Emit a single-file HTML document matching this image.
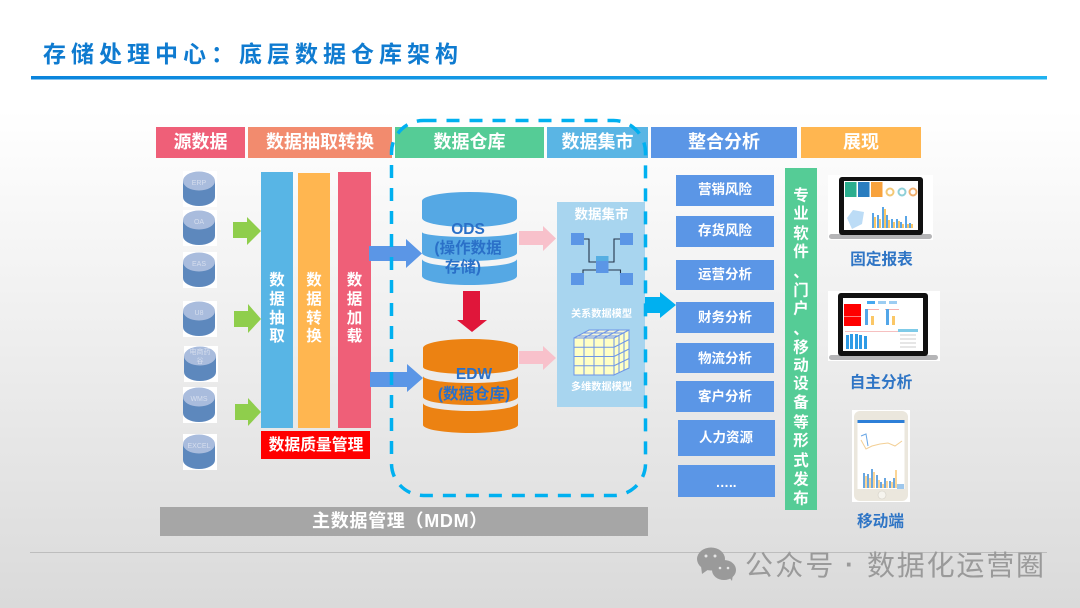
<!DOCTYPE html>
<html lang="zh"><head><meta charset="utf-8"><title>存储处理中心</title>
<style>
html,body{margin:0;padding:0;width:1080px;height:608px;overflow:hidden}
svg{display:block}
text{font-family:"Liberation Sans","Noto Sans CJK SC",sans-serif}
.h{font-size:18px;font-weight:700;fill:#fff;text-anchor:middle}
.l{font-size:13.5px;font-weight:700;fill:#fff;text-anchor:middle}
.v{font-size:15.5px;font-weight:700;fill:#fff;text-anchor:middle}
.c{font-size:7px;fill:#d6deee;text-anchor:middle}
.b{font-size:15.5px;font-weight:700;fill:#2a70c8;text-anchor:middle}
.f{font-size:15.7px;font-weight:700;fill:#2f75c5;text-anchor:middle}
</style></head><body>
<svg xmlns="http://www.w3.org/2000/svg" width="1080" height="608" viewBox="0 0 1080 608">
<defs>
<linearGradient id="bg" x1="0" y1="0" x2="0" y2="1"><stop offset="0" stop-color="#fff"/><stop offset=".18" stop-color="#fff"/><stop offset="1" stop-color="#dadada"/></linearGradient>
<linearGradient id="tb" x1="0" y1="0" x2="1" y2="0"><stop offset="0" stop-color="#0a84dc"/><stop offset="1" stop-color="#20b2f0"/></linearGradient>
<symbol id="cy" width="34" height="36" viewBox="0 0 34 36" overflow="visible">
<rect x="0" y="-1" width="34" height="36" fill="#fff"/>
<path d="M0 9V25A16 9 0 0 0 32 25V9Z" fill="#5d88bd"/>
<ellipse cx="16" cy="9" rx="16" ry="9.5" fill="#a9bcdd"/>
</symbol>
</defs>
<rect width="1080" height="608" fill="url(#bg)"/>

<text x="43" y="62" font-size="23" font-weight="700" letter-spacing="5" fill="#0f7bd0">存储处理中心：底层数据仓库架构</text>
<rect x="31" y="76" width="1016" height="3.5" fill="url(#tb)"/>
<rect x="30" y="552" width="1017" height="1" fill="#bdbdbd"/>

<!-- headers -->
<rect x="156" y="127" width="89" height="31" fill="#ef5f78"/><text class="h" x="200.500" y="148">源数据</text>
<rect x="248" y="127" width="144" height="31" fill="#f28b6e"/><text class="h" x="320" y="148">数据抽取转换</text>
<rect x="395" y="127" width="149" height="31" fill="#55cc96"/><text class="h" x="469.500" y="148">数据仓库</text>
<rect x="547" y="127" width="101" height="31" fill="#5ab5e4"/><text class="h" x="597.500" y="148">数据集市</text>
<rect x="651" y="127" width="146" height="31" fill="#5b96e6"/><text class="h" x="724" y="148">整合分析</text>
<rect x="801" y="127" width="120" height="31" fill="#ffb650"/><text class="h" x="861" y="148">展现</text>

<!-- source cylinders -->
<use href="#cy" x="183" y="172" width="34" height="36"/><text class="c" x="199" y="185">ERP</text>
<use href="#cy" x="183" y="211" width="34" height="36"/><text class="c" x="199" y="224">OA</text>
<use href="#cy" x="183" y="253" width="34" height="36"/><text class="c" x="199" y="266">EAS</text>
<use href="#cy" x="183" y="302" width="34" height="36"/><text class="c" x="199" y="315">U8</text>
<use href="#cy" x="184" y="347" width="34" height="36"/><text class="c" x="200" y="354">电商药</text><text class="c" x="200" y="363">谷</text>
<use href="#cy" x="183" y="388" width="34" height="36"/><text class="c" x="199" y="401">WMS</text>
<use href="#cy" x="183" y="435" width="34" height="36"/><text class="c" x="199" y="448">EXCEL</text>

<!-- green arrows -->
<path d="M233 222H247V217L261 231L247 245V238H233Z" fill="#8fce4c"/>
<path d="M234 311H248V304L261 319L248 333V327H234Z" fill="#8fce4c"/>
<path d="M235 404H248V398L261 412L248 426V420H235Z" fill="#8fce4c"/>

<!-- process columns -->
<rect x="261" y="172" width="32" height="256" fill="#58b5e5"/>
<rect x="298" y="173" width="32" height="255" fill="#ffb650"/>
<rect x="338" y="172" width="33" height="256" fill="#ef5f78"/>
<g>
<text class="v" x="277" y="285">数</text><text class="v" x="277" y="304">据</text><text class="v" x="277" y="323">抽</text><text class="v" x="277" y="341">取</text>
<text class="v" x="314" y="285">数</text><text class="v" x="314" y="304">据</text><text class="v" x="314" y="323">转</text><text class="v" x="314" y="341">换</text>
<text class="v" x="354.500" y="285">数</text><text class="v" x="354.500" y="304">据</text><text class="v" x="354.500" y="323">加</text><text class="v" x="354.500" y="341">载</text>
</g>
<rect x="261" y="431" width="109" height="28" fill="#ff0000"/>
<text x="316" y="450" font-size="15.8" font-weight="700" fill="#fff" text-anchor="middle">数据质量管理</text>
<rect x="160" y="507" width="488" height="29" fill="#a6a6a6"/>
<text x="400" y="527" font-size="18" font-weight="700" letter-spacing=".7" fill="#fff" text-anchor="middle">主数据管理（MDM）</text>

<!-- ODS -->
<path d="M422 201A47.500 9 0 0 1 517 201V218A47.500 9 0 0 1 422 218Z" fill="#55a8e4"/>
<path d="M422 232A47.500 5 0 0 0 517 232V253A47.500 8 0 0 1 422 253Z" fill="#55a8e4"/>
<path d="M422 259A47.500 8 0 0 0 517 259V276A47.500 9 0 0 1 422 276Z" fill="#55a8e4"/>
<text class="b" x="468" y="234">ODS</text>
<text class="b" x="468" y="253">(操作数据</text>
<text class="b" x="463" y="272">存储)</text>

<!-- EDW -->
<path d="M423 348A47.500 9 0 0 1 518 348V367A47.500 7 0 0 1 423 367Z" fill="#ec8212"/>
<path d="M423 376A47.500 7 0 0 0 518 376V397A47.500 8 0 0 1 423 397Z" fill="#ec8212"/>
<path d="M423 403A47.500 8 0 0 0 518 403V425A47.500 8 0 0 1 423 425Z" fill="#ec8212"/>
<text class="b" x="474" y="379">EDW</text>
<text class="b" x="474" y="399">(数据仓库)</text>

<!-- mid arrows -->
<path d="M369 246H406V239L422 253.500L406 268V261H369Z" fill="#5b96e6"/>
<path d="M370 372H407V364L423 378L407 392V387H370Z" fill="#5b96e6"/>
<path d="M519 231H543V226L556 238.500L543 251V245H519Z" fill="#f8c1cb"/>
<path d="M519 351H543V346L556 358L543 370V364H519Z" fill="#f8c1cb"/>
<path d="M463 291H480V320H487L472 332L457 320H463Z" fill="#e0163a"/>

<!-- data mart panel -->
<rect x="557" y="202" width="88" height="205" fill="#a8d5ef"/>
<text x="601.500" y="219" font-size="13.5" font-weight="700" fill="#fff" text-anchor="middle">数据集市</text>
<g fill="none" stroke="#24344a" stroke-width="1.100">
<path d="M584 239H589V262H596"/><path d="M620 239H614V262H608"/><path d="M583 275V270H596"/><path d="M620.500 275V270H608"/>
</g>
<g fill="#5b96e6">
<rect x="571" y="233" width="13" height="12"/><rect x="620" y="233" width="13" height="12"/>
<rect x="571" y="273" width="13" height="12"/><rect x="620" y="273" width="13" height="12"/>
<rect x="596" y="261" width="12.500" height="12"/>
</g>
<rect x="596" y="256" width="12.500" height="5" fill="#55aee2"/>
<text x="601.500" y="317" font-size="10.2" font-weight="700" fill="#fff" text-anchor="middle">关系数据模型</text>
<g stroke="#6e96e8" stroke-width="1" fill="#ffffc4">
<path d="M574 338L589 330H629L614 338Z" fill="#f4f6d8"/>
<path d="M614 338L629 330V368L614 375Z"/>
<rect x="574" y="338" width="40" height="37"/>
<path d="M584 338V375M594 338V375M604 338V375M574 347.250H614M574 356.500H614M574 365.750H614" fill="none"/>
<path d="M584 338L599 330M594 338L609 330M604 338L619 330M578 336H618M583 333H623" fill="none"/>
<path d="M619 335V373M624 333V370M614 347.250L629 339.500M614 356.500L629 349M614 365.750L629 358.500" fill="none"/>
</g>
<text x="601.500" y="390" font-size="10.2" font-weight="700" fill="#fff" text-anchor="middle">多维数据模型</text>

<!-- dashed frame -->
<rect x="391.500" y="120.500" width="254" height="375" rx="32" ry="32" fill="none" stroke="#00b0f0" stroke-width="3.500" stroke-dasharray="13 10"/>

<!-- big cyan arrow -->
<path d="M645 297H660V292L676 305L660 318V313H645Z" fill="#00b0f0"/>

<!-- analysis list -->
<g fill="#5b96e6">
<rect x="676" y="175" width="98" height="31"/><rect x="676" y="216" width="98" height="31"/>
<rect x="676" y="260" width="98" height="30"/><rect x="676" y="302" width="98" height="31"/>
<rect x="676" y="343" width="98" height="30"/><rect x="676" y="381" width="98" height="31"/>
<rect x="678" y="420" width="97" height="36"/><rect x="678" y="465" width="97" height="32"/>
</g>
<text class="l" x="725" y="194">营销风险</text>
<text class="l" x="725" y="235">存货风险</text>
<text class="l" x="725" y="279">运营分析</text>
<text class="l" x="725" y="322">财务分析</text>
<text class="l" x="725" y="363">物流分析</text>
<text class="l" x="725" y="401">客户分析</text>
<text class="l" x="726" y="442">人力资源</text>
<text class="l" x="726" y="487">…..</text>

<!-- vertical publishing bar -->
<rect x="785" y="168" width="32" height="342" fill="#55cc96"/>
<g>
<text class="v" x="801" y="200.500">专</text><text class="v" x="801" y="218.500">业</text><text class="v" x="801" y="238.500">软</text><text class="v" x="801" y="256.500">件</text>
<text class="v" x="801" y="277">、</text><text class="v" x="801" y="295.500">门</text><text class="v" x="801" y="313.500">户</text><text class="v" x="801" y="334">、</text>
<text class="v" x="801" y="352.500">移</text><text class="v" x="801" y="370.500">动</text><text class="v" x="801" y="388.500">设</text><text class="v" x="801" y="407.500">备</text>
<text class="v" x="801" y="427.500">等</text><text class="v" x="801" y="445.500">形</text><text class="v" x="801" y="465.500">式</text><text class="v" x="801" y="484.500">发</text><text class="v" x="801" y="503.500">布</text>
</g>

<!-- laptop 1 -->
<rect x="828" y="175" width="105" height="65" fill="#fff"/>
<rect x="829" y="234" width="103" height="5" rx="2.500" fill="#b5b5b7"/>
<rect x="839" y="177" width="84" height="58" rx="3" fill="#111"/>
<rect x="844" y="181" width="74" height="49" fill="#fff"/>
<rect x="845" y="182" width="11.500" height="15" fill="#2bae8e"/><rect x="858" y="182" width="11.500" height="15" fill="#2a7dbf"/><rect x="871" y="182" width="11.500" height="15" fill="#f8a23c"/>
<g fill="none" stroke-width="2"><circle cx="890" cy="192" r="3.500" stroke="#f3c875"/><circle cx="902" cy="192" r="3.500" stroke="#8fd0d8"/><circle cx="913" cy="192" r="3.500" stroke="#f0b070"/></g>
<path d="M847 218L853 210L864 212L862 224L852 229Z" fill="#bcdcf6"/>
<g fill="#5aa6e6"><rect x="872" y="213" width="2" height="15"/><rect x="877" y="215" width="2" height="13"/><rect x="882" y="207" width="2" height="21"/><rect x="886" y="215" width="2" height="13"/><rect x="891" y="219" width="2" height="9"/><rect x="896" y="219" width="2" height="9"/><rect x="900" y="222" width="2" height="6"/><rect x="905" y="216" width="2" height="12"/><rect x="909" y="223" width="2" height="5"/></g>
<g fill="#fbc766"><rect x="874" y="217" width="2" height="11"/><rect x="879" y="219" width="2" height="9"/><rect x="884" y="209" width="2" height="19"/><rect x="888" y="220" width="2" height="8"/><rect x="893" y="222" width="2" height="6"/><rect x="898" y="221" width="2" height="7"/><rect x="902" y="224" width="2" height="4"/><rect x="907" y="224" width="2" height="4"/><rect x="911" y="224" width="2" height="4"/></g>

<text class="f" x="881.500" y="264.500">固定报表</text>

<!-- laptop 2 -->
<rect x="828" y="291" width="112" height="70" fill="#fff"/>
<rect x="829" y="355" width="109" height="5" rx="2.500" fill="#b5b5b7"/>
<rect x="838" y="293" width="90" height="63" rx="3" fill="#111"/>
<rect x="843" y="298" width="80" height="53" fill="#fff"/>
<rect x="844" y="304" width="17" height="12" fill="#f00"/><rect x="844" y="316.500" width="17" height="9.500" fill="#f00"/>
<rect x="867" y="301" width="8" height="3" fill="#45a8f0"/><rect x="878" y="301" width="8" height="3" fill="#9ccdf2"/><rect x="889" y="301" width="8" height="3" fill="#9ccdf2"/>
<rect x="865" y="309" width="14" height="1" fill="#f6b0b0"/><rect x="885" y="309" width="14" height="1" fill="#f6b0b0"/>
<rect x="865" y="309" width="3" height="16" fill="#52a6e8"/><rect x="871" y="316" width="3" height="9" fill="#fbc766"/>
<rect x="886" y="309" width="3" height="16" fill="#52a6e8"/><rect x="892" y="316" width="3" height="9" fill="#fbc766"/>
<rect x="845" y="331" width="55" height="1" fill="#f6c0c0"/>
<g fill="#2e9be6"><rect x="846" y="335" width="3" height="14"/><rect x="850" y="334" width="3" height="15"/><rect x="855" y="334" width="3" height="15"/><rect x="859" y="335" width="3" height="14"/><rect x="864" y="336" width="3" height="13"/></g>
<rect x="898" y="329" width="20" height="3" fill="#7fcbe8"/>
<path d="M900 335H916M900 339H916M900 343H916M900 347H916" stroke="#ccc" stroke-width="1"/>

<text class="f" x="881" y="387.500">自主分析</text>

<!-- phone -->
<rect x="852" y="410" width="58" height="92" fill="#fff"/>
<rect x="854" y="411" width="54" height="90" rx="6" fill="#ebe7dd"/>
<rect x="857.500" y="420" width="47" height="69" fill="#fff"/>
<rect x="857.500" y="420" width="47" height="3" fill="#2d7fd8"/>
<path d="M861 440L866 449L872 446L880 444L888 443L895 446L902 441" fill="none" stroke="#f3cf95" stroke-width="1"/>
<path d="M861 436L866 434L868 446" fill="none" stroke="#6aa7e6" stroke-width="1"/>
<g fill="#6aa7e0"><rect x="863" y="473" width="2" height="15"/><rect x="867" y="474" width="2" height="14"/><rect x="871" y="469" width="2" height="19"/><rect x="876" y="475" width="2" height="13"/><rect x="880" y="482" width="2" height="6"/><rect x="884" y="478" width="2" height="10"/><rect x="889" y="481" width="2" height="7"/><rect x="893" y="478" width="2" height="10"/></g>
<g fill="#fbd596"><rect x="865" y="476" width="2" height="12"/><rect x="869" y="478" width="2" height="10"/><rect x="873" y="472" width="2" height="16"/><rect x="878" y="480" width="2" height="8"/><rect x="882" y="484" width="2" height="4"/><rect x="886" y="481" width="2" height="7"/><rect x="891" y="482" width="2" height="6"/><rect x="895" y="470" width="2" height="18"/></g>
<rect x="897" y="484" width="7" height="5" fill="#9ec7ec"/>
<circle cx="882" cy="495" r="4" fill="#f6f4ee" stroke="#d4d0c6" stroke-width=".6"/>

<text class="f" x="880.500" y="526.500">移动端</text>

<!-- watermark -->
<g fill="#9a9a9a">
<ellipse cx="711" cy="559" rx="14" ry="11.500"/><path d="M701 566L702 574L709 569Z"/>
<ellipse cx="724" cy="570" rx="12" ry="10"/><path d="M729 577L732 581L733 574Z"/>
<circle cx="706" cy="556" r="1.500" fill="#e4e4e4"/><circle cx="715" cy="556" r="1.500" fill="#e4e4e4"/>
<circle cx="720" cy="568" r="1.300" fill="#e4e4e4"/><circle cx="728" cy="568" r="1.300" fill="#e4e4e4"/>
</g>
<text x="745" y="575" font-size="28" letter-spacing="2.200" fill="#9a9a9a">公众号</text>
<text x="849.500" y="573" font-size="26" font-weight="700" fill="#9a9a9a" text-anchor="middle">·</text>
<text x="867" y="575" font-size="28" letter-spacing="1.800" fill="#9a9a9a">数据化运营圈</text>
</svg>
</body></html>
